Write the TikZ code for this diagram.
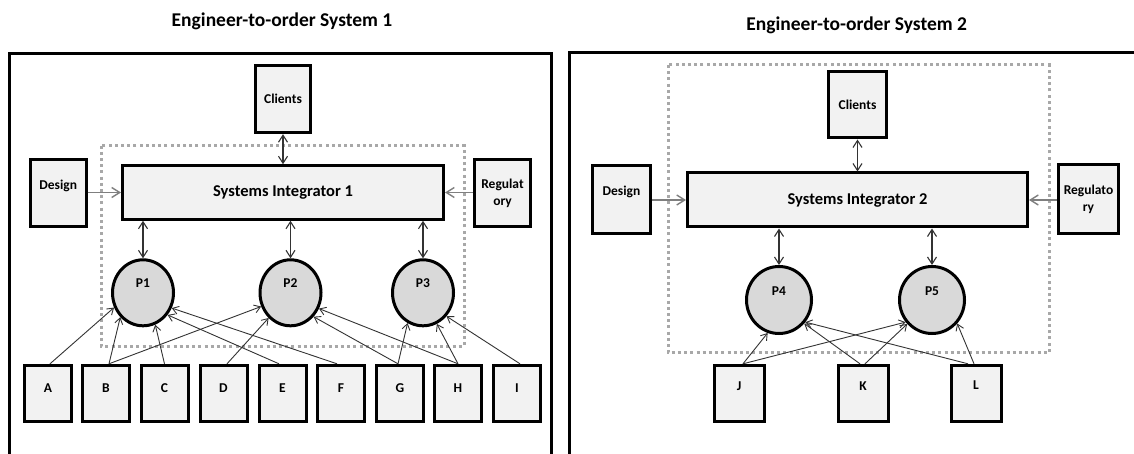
\documentclass[tikz,border=0pt]{standalone}
\usepackage{fontspec}
\setmainfont{Carlito}
\usetikzlibrary{arrows.meta,shapes.geometric}
\definecolor{boxfill}{HTML}{F2F2F2}
\definecolor{circfill}{HTML}{D9D9D9}
\definecolor{dotgray}{HTML}{A8A8A8}
\definecolor{linegray}{HTML}{333333}
\definecolor{midgray}{HTML}{7F7F7F}
\begin{document}
\begin{tikzpicture}[x=1pt,y=-1pt,
  every node/.style={font=\bfseries\fontsize{13.5}{16.7}\selectfont, text=black},
  blk/.style={draw=black, line width=3pt, fill=boxfill, inner sep=0pt},
  proc/.style={ellipse, draw=black, line width=3pt, fill=circfill, inner sep=0pt},
  outerframe/.style={draw=black, line width=3pt},
  dotbox/.style={draw=dotgray, line width=3pt, dash pattern=on 3pt off 3.2pt},
  conn/.style={draw=linegray, line width=0.9pt, -{Straight Barb[length=6pt,width=8pt]}},
  sideflow/.style={draw=midgray, line width=1.4pt, -{Straight Barb[length=8pt,width=10pt]}},
  twoway/.style={draw=linegray, line width=1.1pt, {Straight Barb[length=7pt,width=9pt]}-{Straight Barb[length=7pt,width=9pt]}},
  txtup/.style={text height=0pt, text depth=#1},
  titlefont/.style={font=\bfseries\fontsize{19.5}{23}\selectfont},
  sifont/.style={font=\bfseries\fontsize{16.5}{20}\selectfont},
]
\useasboundingbox (0,0) rectangle (1134,454);
\fill[white] (0,0) rectangle (1134,454);

% ---------- titles and frames ----------
\node[titlefont] (title1) at (282,21.7) {Engineer-to-order System 1};
\node[titlefont] (title2) at (856.7,25) {Engineer-to-order System 2};
\draw[outerframe] (9,470) -- (9,53.3) -- (551.8,53.3) -- (551.8,470);
\draw[outerframe] (569,470) -- (569,52.7) -- (1140,52.7);

% ---------- dotted boundaries ----------
\draw[dotbox] (101,145.7) rectangle (464,346);
\draw[dotbox] (668,65) rectangle (1049,352.7);

% ---------- system 1 ----------
\node[blk, minimum width=55.2pt, minimum height=67pt] (cli1) at (283,99.2) {Clients};
\node[blk, minimum width=55.7pt, minimum height=67.2pt, txtup=8.2pt] (des1) at (58.2,193.3) {Design};
\node[blk, sifont, minimum width=321pt, minimum height=53.5pt] (si1) at (283,192.5) {Systems Integrator 1};
\node[blk, align=center, minimum width=56pt, minimum height=67.2pt] (reg1) at (502.5,193.3) {Regulat\\ory};

\node[proc, minimum width=61pt, minimum height=66pt, txtup=10.6pt] (p1) at (143,292.8) {P1};
\node[proc, minimum width=61pt, minimum height=66pt, txtup=10.6pt] (p2) at (290.5,292.8) {P2};
\node[proc, minimum width=61pt, minimum height=66pt, txtup=10.6pt] (p3) at (423,292.8) {P3};

\foreach \n/\x in {A/48,B/106,C/164.5,D/223.5,E/282.5,F/341,G/400,H/458,I/517}
  \node[blk, minimum width=47pt, minimum height=56pt, txtup=1.6pt] (\n) at (\x,393.3) {\n};

\draw[twoway] (cli1) -- (si1);
\draw[sideflow] (des1.east |- si1.west) -- (si1.west);
\draw[sideflow] (reg1.west |- si1.east) -- (si1.east);
\draw[twoway] (si1.south -| p1) -- (p1.north);
\draw[twoway] (si1.south -| p2) -- (p2.north);
\draw[twoway] (si1.south -| p3) -- (p3.north);

\draw[conn] ([xshift=2pt]A.north) -- (p1.207);
\draw[conn] ([xshift=3pt]B.north) -- (p1.227);
\draw[conn] ([xshift=3pt]B.north) -- (p2.205);
\draw[conn] (C.north) -- (p1.291);
\draw[conn] ([xshift=3.5pt]D.north) -- (p2.229);
\draw[conn] ([xshift=-3.5pt]E.north) -- (p1.318);
\draw[conn] ([xshift=-4pt]F.north) -- (p1.332);
\draw[conn] ([xshift=-2pt]G.north) -- (p2.314);
\draw[conn] ([xshift=-2pt]G.north) -- (p3.243);
\draw[conn] (H.north) -- (p2.331);
\draw[conn] (H.north) -- (p3.294);
\draw[conn] ([xshift=3pt]I.north) -- (p3.315);

% ---------- system 2 ----------
\node[blk, minimum width=58pt, minimum height=66pt] (cli2) at (857.5,105) {Clients};
\node[blk, minimum width=58pt, minimum height=68pt, txtup=8.6pt] (des2) at (621.5,199.5) {Design};
\node[blk, sifont, minimum width=340pt, minimum height=54pt] (si2) at (857.5,200) {Systems Integrator 2};
\node[blk, align=center, minimum width=60pt, minimum height=69pt] (reg2) at (1088.5,199.2) {Regulato\\ry};

\node[proc, minimum width=65pt, minimum height=67pt, txtup=8.2pt] (p4) at (779,300) {P4};
\node[proc, minimum width=65pt, minimum height=67pt, txtup=8.2pt] (p5) at (932,300) {P5};

\node[blk, minimum width=50pt, minimum height=56pt, txtup=6.6pt] (J) at (739,393.3) {J};
\node[blk, minimum width=50pt, minimum height=56pt, txtup=6.6pt] (K) at (863,393.3) {K};
\node[blk, minimum width=50pt, minimum height=56pt, txtup=7.6pt] (L) at (976,393.3) {L};

\draw[twoway] (cli2) -- (si2);
\draw[sideflow] (des2.east |- si2.west) -- (si2.west);
\draw[sideflow] (reg2.west |- si2.east) -- (si2.east);
\draw[twoway] (si2.south -| p4) -- (p4.north);
\draw[twoway] (si2.south -| p5) -- (p5.north);

\draw[conn] ([xshift=4pt]J.north) -- (p4.251);
\draw[conn] ([xshift=4pt]J.north) -- (p5.220);
\draw[conn] ([xshift=-3pt]K.north) -- (p4.317);
\draw[conn] ([xshift=2pt]K.north) -- (p5.224);
\draw[conn] ([xshift=-8pt]L.north) -- (p4.320);
\draw[conn] ([xshift=-2pt]L.north) -- (p5.317);
\end{tikzpicture}
\end{document}
